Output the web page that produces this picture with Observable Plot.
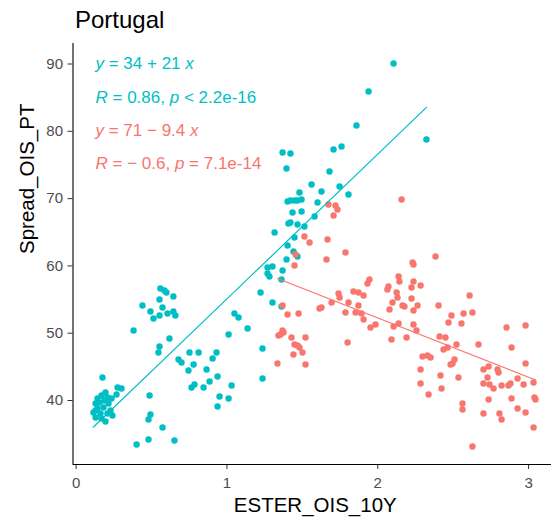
<!DOCTYPE html>
<html>
<head>
<meta charset="utf-8">
<script src="https://cdn.jsdelivr.net/npm/d3@7"></script>
<script src="https://cdn.jsdelivr.net/npm/@observablehq/plot@0.6"></script>
<style>
  body { margin: 0; background: #fff; font-family: "Liberation Sans", Arial, sans-serif; }
  #title { height: 40px; line-height: 40px; font-size: 24px; padding-left: 75px; color: #000; }
  #chart svg { display: block; }
</style>
</head>
<body>
<div id="title">Portugal</div>
<div id="chart"></div>
<script>
const tealX = [0.175,0.275,0.301,0.268,0.195,0.142,0.168,0.208,0.129,0.142,0.182,0.215,0.228,0.162,0.208,0.129,0.241,0.195,0.115,0.155,0.188,0.235,0.129,0.168,
  0.381,0.513,0.619,0.553,0.546,0.487,0.493,0.480,0.573,0.480,0.401,0.652,1.011,1.137,1.236,1.236,0.679,0.699,0.752,0.812,0.779,0.745,0.865,0.931,0.905,0.938,0.885,0.785,0.765,0.845,1.031,0.951,1.011,0.938,
  0.559,0.586,0.599,0.645,0.553,0.440,0.493,0.573,0.553,0.606,0.645,0.658,1.050,1.077,1.223,1.302,1.362,1.269,1.302,1.269,1.282,1.369,1.362,1.395,1.402,1.441,1.468,1.448,1.316,1.408,1.421,1.468,1.514,1.435,1.495,1.402,1.421,1.448,1.468,1.495,1.481,1.561,1.601,1.581,1.627,1.747,1.806,1.369,1.421,1.395,1.680,1.707,1.760,1.859,1.939,2.105,2.323];
const tealY = [43.42,41.94,41.79,40.89,41.19,40.30,40.74,40.45,39.56,38.81,38.96,39.56,38.51,38.07,38.07,37.47,37.77,36.88,38.22,39.71,40.00,40.30,38.51,37.33,
  50.41,52.19,49.22,48.03,47.13,40.74,37.92,37.18,35.99,34.21,33.47,34.06,49.81,50.70,47.73,43.27,46.10,45.65,47.13,47.13,45.35,44.46,44.61,47.13,46.24,43.57,42.83,42.38,41.94,41.94,42.23,40.60,40.30,39.11,
  56.65,56.35,56.05,55.46,55.01,54.12,53.23,53.82,52.63,52.93,53.23,52.63,52.93,52.34,56.05,54.57,53.97,59.77,59.91,58.88,58.43,59.32,57.98,60.96,63.04,62.14,61.40,64.22,64.97,66.30,66.45,66.16,65.86,67.94,68.09,69.57,69.72,69.72,69.72,69.87,70.91,72.10,69.42,67.34,71.06,71.80,70.61,76.85,76.71,74.48,74.03,77.30,77.75,80.87,85.92,90.08,78.79];

const redX = [1.355,1.375,1.342,1.428,1.521,1.448,1.468,1.481,1.501,1.441,1.335,1.521,1.369,1.402,1.475,1.369,
  1.514,1.548,1.455,1.448,1.673,1.720,1.733,1.707,2.158,1.667,1.786,1.660,2.231,2.237,2.383,2.138,2.144,1.945,1.932,2.237,2.224,2.284,2.071,2.064,2.125,2.131,1.839,1.872,1.906,1.740,1.747,2.224,2.609,
  1.694,1.806,2.098,2.164,2.177,2.264,1.872,2.403,1.614,1.627,2.078,2.237,1.786,1.853,1.892,1.906,2.489,2.569,2.628,2.469,2.555,2.854,2.980,1.952,1.985,2.105,2.138,2.237,2.257,
  1.800,2.091,2.191,2.410,2.449,2.522,2.668,2.436,2.463,2.887,2.297,2.330,2.350,2.509,2.496,2.483,2.284,2.416,2.535,2.735,2.701,2.794,2.801,2.980,2.728,2.927,2.701,2.741,2.768,2.821,2.867,2.880,2.967,3.033,
  2.284,2.423,2.337,2.735,2.887,3.039,3.046,2.562,2.562,2.701,2.807,2.821,2.927,2.980,3.033,2.628];
const redY = [49.81,50.11,49.66,49.36,49.36,48.32,48.18,47.88,47.13,46.84,45.50,45.35,50.41,52.78,52.93,54.12,
  64.37,63.48,61.70,60.06,69.13,68.98,68.38,67.49,69.87,63.93,61.99,60.96,60.51,60.21,61.40,58.43,57.69,57.98,57.39,57.69,56.79,57.09,56.94,56.50,56.05,55.31,56.20,56.05,55.61,55.90,55.31,55.16,55.61,
  54.57,54.57,54.57,54.12,53.97,54.12,54.12,54.12,53.67,53.82,53.53,53.38,53.08,53.08,52.93,52.04,52.63,52.93,53.08,51.59,51.45,50.85,51.15,50.85,51.30,51.00,51.45,51.30,50.41,
  48.62,49.07,49.36,49.51,49.36,48.32,48.32,47.58,47.88,47.88,46.54,46.69,46.39,46.10,45.50,45.35,44.61,43.72,43.42,45.06,44.61,44.61,44.16,45.50,43.42,43.27,42.53,42.38,41.79,42.23,42.23,42.53,42.38,42.68,
  42.53,41.79,40.89,40.15,40.30,40.45,40.15,39.56,38.66,38.07,38.07,37.18,38.81,38.22,35.99,33.17];

const groups = ["g1", "g2"];
const groupColors = ["#00BFC4", "#F8766D"];
const xTicks = [0, 1, 2, 3];
const yTicks = [40, 50, 60, 70, 80, 90];
const eqLabels = ["y = 34 + 21 x", "R = 0.86, p < 2.2e-16", "y = 71 \u2212 9.4 x", "R = \u2212 0.6, p = 7.1e-14"];
const eqGroups = ["g1", "g1", "g2", "g2"];
const xLabel = "ESTER_OIS_10Y";
const yLabel = "Spread_OIS_PT";

const rows = [
  ...tealX.map((x, i) => ({x, y: tealY[i], g: "g1"})),
  ...redX.map((x, i) => ({x, y: redY[i], g: "g2"}))
];

const xDomain = [-0.0206, 3.152];
const yDomain = [30.49, 93.05];
const font = "Liberation Sans, Arial, sans-serif";

const eqMarks = eqLabels.map((t, i) => Plot.text([t], {
  frameAnchor: "top-left", text: d => d, fill: groupColors[groups.indexOf(eqGroups[i])],
  dx: 22.5, dy: 20.3 + i * 33.35, textAnchor: "start", lineAnchor: "middle", fontSize: 17
}));

const plot = Plot.plot({
  width: 551,
  height: 479,
  marginTop: 3,
  marginBottom: 55,
  marginLeft: 72.5,
  marginRight: 0,
  style: {fontFamily: font, background: "#fff"},
  x: {domain: xDomain, ticks: xTicks},
  y: {domain: yDomain, ticks: yTicks},
  color: {domain: groups, range: groupColors},
  marks: [
    Plot.axisX({ticks: xTicks, tickFormat: d3.format("d"), tickSize: 5, tickPadding: 8, fontSize: 15, color: "#4D4D4D", stroke: "#333", label: null}),
    Plot.axisY({ticks: yTicks, tickFormat: d3.format("d"), tickSize: 5, tickPadding: 5, fontSize: 15, color: "#4D4D4D", stroke: "#333", label: null}),
    Plot.dot(rows, {x: "x", y: "y", fill: "g", r: 3.2}),
    Plot.linearRegressionY(rows, {x: "x", y: "y", stroke: "g", ci: 0, strokeWidth: 1.2}),
    Plot.ruleX([xDomain[0]], {stroke: "#000", strokeWidth: 1.1}),
    Plot.ruleY([yDomain[0]], {stroke: "#000", strokeWidth: 1.1}),
    ...eqMarks,
    Plot.text([xLabel], {frameAnchor: "bottom", text: d => d, dx: 3, dy: 41, lineAnchor: "middle", fontSize: 20.5, fill: "#000"}),
    Plot.text([yLabel], {frameAnchor: "left", text: d => d, dx: -45.5, rotate: -90, lineAnchor: "middle", fontSize: 20.5, fill: "#000"})
  ]
});

// italicise the variable letters in the equation labels
const ns = "http://www.w3.org/2000/svg";
plot.querySelectorAll("text").forEach(t => {
  if (!eqLabels.includes(t.textContent)) return;
  const s = t.textContent;
  t.textContent = "";
  s.split(/(\b[yxRp]\b)/).forEach(part => {
    if (!part) return;
    const ts = document.createElementNS(ns, "tspan");
    if (/^[yxRp]$/.test(part)) ts.setAttribute("font-style", "italic");
    ts.textContent = part;
    t.appendChild(ts);
  });
});

document.getElementById("chart").appendChild(plot);
</script>
</body>
</html>
